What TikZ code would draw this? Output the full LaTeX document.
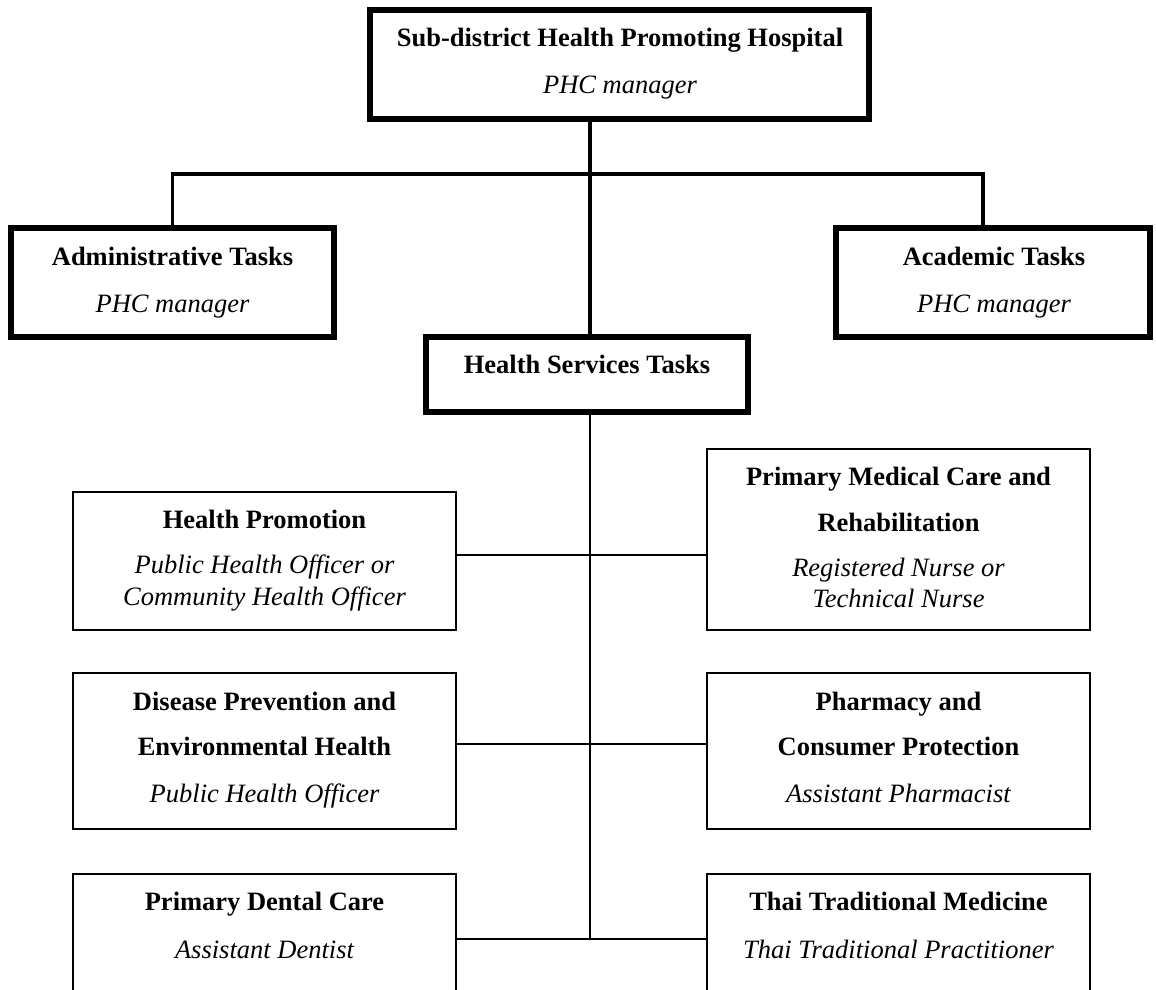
\documentclass[tikz,border=0pt]{standalone}
\usepackage{fontspec}
\setmainfont{Liberation Serif}
\begin{document}
\begin{tikzpicture}[x=1pt,y=-1pt,
  heavybox/.style={draw=black,line width=6pt,inner sep=0pt,outer sep=0pt,rectangle},
  lightbox/.style={draw=black,line width=1.7pt,inner sep=0pt,outer sep=0pt,rectangle},
  heavylink/.style={draw=black,line width=3.6pt},
  lightlink/.style={draw=black,line width=1.7pt},
  bt/.style={anchor=base,inner sep=0pt,font=\fontsize{26.5}{31}\selectfont\bfseries},
  it/.style={anchor=base,inner sep=0pt,font=\fontsize{26.5}{31}\selectfont\itshape}]
\useasboundingbox (0,0) rectangle (1156,990);
\clip (0,0) rectangle (1156,990);
\fill[white] (0,0) rectangle (1156,990);
% boxes
\node[heavybox,minimum width=499pt,minimum height=109pt] (top) at (619.5,64.5) {};
\node[heavybox,minimum width=323pt,minimum height=109pt] (admin) at (172.5,282.5) {};
\node[heavybox,minimum width=314pt,minimum height=109pt] (acad) at (993,282.5) {};
\node[heavybox,minimum width=322pt,minimum height=75pt] (hs) at (587,374.5) {};
\node[lightbox,minimum width=383pt,minimum height=138pt] (hp) at (264.5,561) {};
\node[lightbox,minimum width=383pt,minimum height=181pt] (pmc) at (898.5,539.5) {};
\node[lightbox,minimum width=383pt,minimum height=156pt] (dp) at (264.5,751) {};
\node[lightbox,minimum width=383pt,minimum height=156pt] (ph) at (898.5,751) {};
\node[lightbox,minimum width=383pt,minimum height=136pt] (dc) at (264.5,942) {};
\node[lightbox,minimum width=383pt,minimum height=136pt] (ttm) at (898.5,942) {};
% texts
\node[bt] (t1) at (620,47) {Sub-district Health Promoting Hospital};
\node[it] (t2) at (620,93) {PHC manager};
\node[bt] (t3) at (172.5,265) {Administrative Tasks};
\node[it] (t4) at (172.5,312) {PHC manager};
\node[bt] (t5) at (994,265) {Academic Tasks};
\node[it] (t6) at (994,312) {PHC manager};
\node[bt] (t7) at (587,373) {Health Services Tasks};
\node[bt] (t8) at (264.5,528) {Health Promotion};
\node[it] (t9) at (264.5,573) {Public Health Officer or};
\node[it] (t10) at (264.5,605) {Community Health Officer};
\node[bt] (t11) at (898.5,485) {Primary Medical Care and};
\node[bt] (t12) at (898.5,531) {Rehabilitation};
\node[it] (t13) at (898.5,576) {Registered Nurse or};
\node[it] (t14) at (898.5,607) {Technical Nurse};
\node[bt] (t15) at (264.5,710) {Disease Prevention and};
\node[bt] (t16) at (264.5,755) {Environmental Health};
\node[it] (t17) at (264.5,802) {Public Health Officer};
\node[bt] (t18) at (898.5,710) {Pharmacy and};
\node[bt] (t19) at (898.5,755) {Consumer Protection};
\node[it] (t20) at (898.5,802) {Assistant Pharmacist};
\node[bt] (t21) at (264.5,910) {Primary Dental Care};
\node[it] (t22) at (264.5,958) {Assistant Dentist};
\node[bt] (t23) at (898.5,910) {Thai Traditional Medicine};
\node[it] (t24) at (898.5,958) {Thai Traditional Practitioner};
% junctions
\coordinate (trunk) at (590,174);
\coordinate (acadj) at (983,174);
\coordinate (j1) at (590,555);
\coordinate (j2) at (590,744);
\coordinate (j3) at (590,939);
% heavy connectors
\draw[heavylink] (top.south -| trunk) -- (hs.north -| trunk);
\draw[heavylink] (admin.north) |- (trunk) -- (acadj) -- (acadj |- acad.north);
% light connectors
\draw[lightlink] (hs.south -| j1) -- (j3);
\draw[lightlink] (j1 -| hp.east) -- (j1 -| pmc.west);
\draw[lightlink] (j2 -| dp.east) -- (j2 -| ph.west);
\draw[lightlink] (j3 -| dc.east) -- (j3 -| ttm.west);
\end{tikzpicture}
\end{document}
